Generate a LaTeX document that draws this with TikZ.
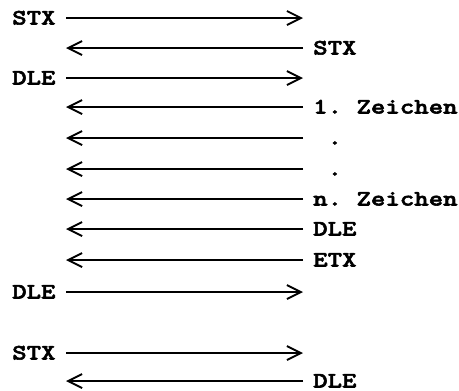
\documentclass[tikz,border=0pt]{standalone}
\usepackage{fontspec}
\setmonofont{lmmonolt10-bold.otf}[FakeStretch=1.25, FakeBold=2.5]
\usetikzlibrary{arrows.meta,positioning}

\begin{document}
\begin{tikzpicture}[x=1pt, y=1pt,
  every node/.style={font=\fontsize{22}{23}\selectfont\ttfamily, inner sep=0pt, text height=13pt, text depth=0pt},
  msg/.style={line width=1.9pt, -{Straight Barb[length=14pt,width=14pt]}}]
  \useasboundingbox (0,0) rectangle (459,-391);
  % line ends, one pair per row
  \foreach \y [count=\i] in {18,48,78,107,138,169,199,229,260,292,353,381}
    {\coordinate (l\i) at (66,-\y); \coordinate (r\i) at (303,-\y);}
  % sender side
  \node[anchor=west] (stx) at (12,-18) {STX};
  \node[anchor=west] (dle) at (12,-78) {DLE};
  \node[anchor=west] (dleend) at (12,-292) {DLE};
  \node[anchor=west] (stxnew) at (12,-353) {STX};
  % receiver side
  \node[right=10pt of r2] (rstx) {STX};
  \node[right=10pt of r4] (first) {1. Zeichen};
  \node[right=10pt of r5] (dot1) {~.};
  \node[right=10pt of r6] (dot2) {~.};
  \node[right=10pt of r7] (last) {n. Zeichen};
  \node[right=10pt of r8] (rdle) {DLE};
  \node[right=10pt of r9] (retx) {ETX};
  \node[right=10pt of r12] (rdleend) {DLE};
  % messages
  \foreach \i in {1,3,10,11} \draw[msg] (l\i) -- (r\i);
  \foreach \i in {2,4,5,6,7,8,9,12} \draw[msg] (r\i) -- (l\i);
\end{tikzpicture}
\end{document}
